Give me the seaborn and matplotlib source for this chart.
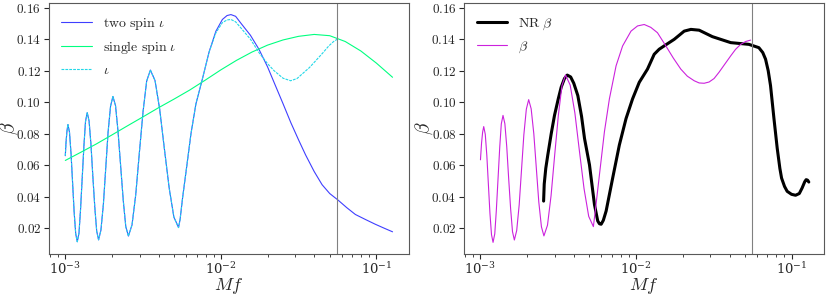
import numpy as np
import pandas as pd
import matplotlib
matplotlib.use("Agg")
import matplotlib.pyplot as plt
import seaborn as sns
from matplotlib.ticker import FuncFormatter

sns.set_style("ticks")
plt.rcParams["mathtext.fontset"] = "cm"
plt.rcParams["font.family"] = ["DejaVu Serif"]

# ***** data (x given as log10(Mf)) ***** #
two_spin_logf = [-3.000, -2.995, -2.989, -2.983, -2.973, -2.963, -2.953, -2.943, -2.933, -2.923,
                 -2.912, -2.902, -2.891, -2.880, -2.870, -2.859, -2.847, -2.835, -2.823, -2.810,
                 -2.798, -2.786, -2.771, -2.755, -2.740, -2.725, -2.709, -2.694, -2.677, -2.661,
                 -2.644, -2.627, -2.611, -2.594, -2.571, -2.547, -2.524, -2.500, -2.477, -2.453,
                 -2.423, -2.393, -2.363, -2.332, -2.302, -2.272, -2.262, -2.246, -2.218, -2.192,
                 -2.160, -2.118, -2.075, -2.032, -1.990, -1.960, -1.935, -1.905, -1.870, -1.810,
                 -1.755, -1.700, -1.658, -1.600, -1.550, -1.500, -1.455, -1.400, -1.349, -1.300,
                 -1.246, -1.190, -1.135, -1.070, -1.007, -0.950, -0.896]
two_spin_beta = [0.0660, 0.0750, 0.0820, 0.0858, 0.0808, 0.0672, 0.0486, 0.0300, 0.0164, 0.0114,
                 0.0169, 0.0319, 0.0524, 0.0728, 0.0878, 0.0933, 0.0879, 0.0731, 0.0530, 0.0328,
                 0.0180, 0.0126, 0.0187, 0.0354, 0.0581, 0.0809, 0.0975, 0.1036, 0.0977, 0.0815,
                 0.0593, 0.0372, 0.0209, 0.0150, 0.0221, 0.0414, 0.0677, 0.0941, 0.1133, 0.1204,
                 0.1137, 0.0954, 0.0704, 0.0454, 0.0271, 0.0204, 0.0255, 0.0392, 0.0602, 0.0800,
                 0.0990, 0.1150, 0.1320, 0.1450, 0.1525, 0.1550, 0.1556, 0.1545, 0.1500, 0.1425,
                 0.1336, 0.1225, 0.1126, 0.0990, 0.0870, 0.0760, 0.0665, 0.0560, 0.0476, 0.0420,
                 0.0378, 0.0330, 0.0287, 0.0255, 0.0225, 0.0200, 0.0177]

single_spin_logf = [-3.0, -2.9, -2.8, -2.7, -2.6, -2.5, -2.4, -2.3, -2.2, -2.1, -2.0, -1.9, -1.8,
                    -1.7, -1.6, -1.5, -1.4, -1.3, -1.2, -1.1, -1.0, -0.896]
single_spin_beta = [0.0630, 0.0682, 0.0735, 0.0792, 0.0850, 0.0907, 0.0965, 0.1020, 0.1077, 0.1140,
                    0.1205, 0.1265, 0.1318, 0.1362, 0.1395, 0.1418, 0.1430, 0.1422, 0.1385, 0.1325,
                    0.1248, 0.1158]

iota_logf = two_spin_logf[:53] + [-2.032, -1.990, -1.960, -1.935, -1.905, -1.870, -1.810, -1.755,
                                  -1.700, -1.658, -1.600, -1.551, -1.510, -1.477, -1.430, -1.391,
                                  -1.345, -1.306, -1.275, -1.246]
iota_beta = two_spin_beta[:53] + [0.1440, 0.1505, 0.1522, 0.1525, 0.1510, 0.1470, 0.1400, 0.1315,
                                  0.1245, 0.1200, 0.1152, 0.1136, 0.1150, 0.1179, 0.1220, 0.1262,
                                  0.1312, 0.1357, 0.1385, 0.1403]

beta_logf = [-3.000, -2.993, -2.986, -2.979, -2.969, -2.959, -2.949, -2.939, -2.929, -2.919,
             -2.908, -2.898, -2.887, -2.876, -2.866, -2.855, -2.843, -2.831, -2.819, -2.806,
             -2.794, -2.782, -2.767, -2.751, -2.736, -2.721, -2.705, -2.690, -2.674, -2.657,
             -2.641, -2.625, -2.608, -2.592, -2.569, -2.546, -2.523, -2.499, -2.476, -2.453,
             -2.423, -2.393, -2.364, -2.334, -2.304, -2.274, -2.264, -2.235, -2.203, -2.171,
             -2.128, -2.086, -2.032, -1.990, -1.947, -1.905, -1.862, -1.808, -1.760, -1.712,
             -1.670, -1.626, -1.594, -1.562, -1.530, -1.498, -1.466, -1.430, -1.391, -1.360,
             -1.327, -1.295, -1.263]
beta_beta = [0.0634, 0.0740, 0.0810, 0.0845, 0.0796, 0.0661, 0.0478, 0.0294, 0.0159, 0.0110,
             0.0164, 0.0312, 0.0513, 0.0715, 0.0862, 0.0916, 0.0863, 0.0718, 0.0521, 0.0323,
             0.0178, 0.0125, 0.0185, 0.0348, 0.0571, 0.0793, 0.0956, 0.1016, 0.0958, 0.0800,
             0.0584, 0.0367, 0.0209, 0.0151, 0.0219, 0.0407, 0.0662, 0.0918, 0.1105, 0.1173,
             0.1108, 0.0932, 0.0692, 0.0451, 0.0275, 0.0210, 0.0290, 0.0539, 0.0812, 0.1021,
             0.1231, 0.1357, 0.1451, 0.1484, 0.1493, 0.1475, 0.1441, 0.1357, 0.1280, 0.1210,
             0.1165, 0.1136, 0.1122, 0.1120, 0.1128, 0.1150, 0.1190, 0.1240, 0.1294, 0.1335,
             0.1367, 0.1385, 0.1394]

nr_logf = [-2.594, -2.590, -2.580, -2.567, -2.545, -2.524, -2.500, -2.481, -2.460, -2.442,
           -2.420, -2.400, -2.374, -2.350, -2.331, -2.299, -2.267, -2.246, -2.235, -2.224,
           -2.210, -2.192, -2.150, -2.107, -2.064, -2.022, -1.979, -1.926, -1.883, -1.851,
           -1.819, -1.754, -1.690, -1.647, -1.594, -1.509, -1.391, -1.274, -1.210, -1.185,
           -1.167, -1.150, -1.135, -1.113, -1.092, -1.075, -1.064, -1.045, -1.028, -1.000,
           -0.974, -0.950, -0.932, -0.915, -0.906, -0.897, -0.889]
nr_beta = [0.0372, 0.0480, 0.0580, 0.0665, 0.0800, 0.0916, 0.1020, 0.1095, 0.1150, 0.1172,
           0.1160, 0.1120, 0.1042, 0.0910, 0.0770, 0.0602, 0.0350, 0.0246, 0.0228, 0.0225,
           0.0250, 0.0309, 0.0518, 0.0728, 0.0896, 0.1021, 0.1126, 0.1210, 0.1304, 0.1336,
           0.1357, 0.1399, 0.1451, 0.1462, 0.1457, 0.1416, 0.1378, 0.1367, 0.1346, 0.1315,
           0.1273, 0.1200, 0.1105, 0.0896, 0.0707, 0.0580, 0.0518, 0.0465, 0.0434, 0.0415,
           0.0409, 0.0420, 0.0455, 0.0495, 0.0508, 0.0505, 0.0493]

f_ringdown = 0.056


def frame(logf, beta):
    return pd.DataFrame({"Mf": 10 ** np.array(logf), "beta": beta})


fig, (ax1, ax2) = plt.subplots(1, 2, figsize=(8.3, 2.95), dpi=100)
fig.subplots_adjust(left=0.059, right=0.993, bottom=0.14, top=0.989, wspace=0.153)

sns.lineplot(data=frame(two_spin_logf, two_spin_beta), x="Mf", y="beta", ax=ax1, sort=False,
             estimator=None, color="#3f3fff", lw=0.8, label=r"$\mathrm{two\ spin}\ \iota$")
sns.lineplot(data=frame(single_spin_logf, single_spin_beta), x="Mf", y="beta", ax=ax1, sort=False,
             estimator=None, color="#00ff80", lw=0.8, label=r"$\mathrm{single\ spin}\ \iota$")
sns.lineplot(data=frame(iota_logf, iota_beta), x="Mf", y="beta", ax=ax1, sort=False,
             estimator=None, color="#22d8e8", lw=0.8, linestyle=(0, (2.5, 1)), label=r"$\iota$")

sns.lineplot(data=frame(nr_logf, nr_beta), x="Mf", y="beta", ax=ax2, sort=False,
             estimator=None, color="black", lw=2.2, label=r"$\mathrm{NR}\ \beta$")
sns.lineplot(data=frame(beta_logf, beta_beta), x="Mf", y="beta", ax=ax2, sort=False,
             estimator=None, color="#cc22dd", lw=0.8, label=r"$\beta$")

for ax in (ax1, ax2):
    ax.set_xscale("log")
    ax.set_xlim(10 ** -3.105, 10 ** -0.79)
    ax.set_ylim(0.0038, 0.1628)
    ax.set_yticks(np.arange(0.02, 0.161, 0.02))
    ax.yaxis.set_major_formatter(FuncFormatter(lambda v, p: f"${v:.2f}$"))
    ax.axvline(f_ringdown, color="gray", lw=0.8)
    ax.set_xlabel(r"$Mf$", fontsize=13)
    ax.set_ylabel(r"$\beta$", fontsize=14)
    ax.xaxis.set_label_coords(0.5, -0.088)
    ax.yaxis.set_label_coords(-0.08, 0.5)
    ax.tick_params(labelsize=9.5, pad=2)
    for s in ax.spines.values():
        s.set_color("0.35")
    ax.legend(loc="upper left", frameon=False, fontsize=10, handlelength=2.2)

plt.savefig("out.png", dpi=100)
